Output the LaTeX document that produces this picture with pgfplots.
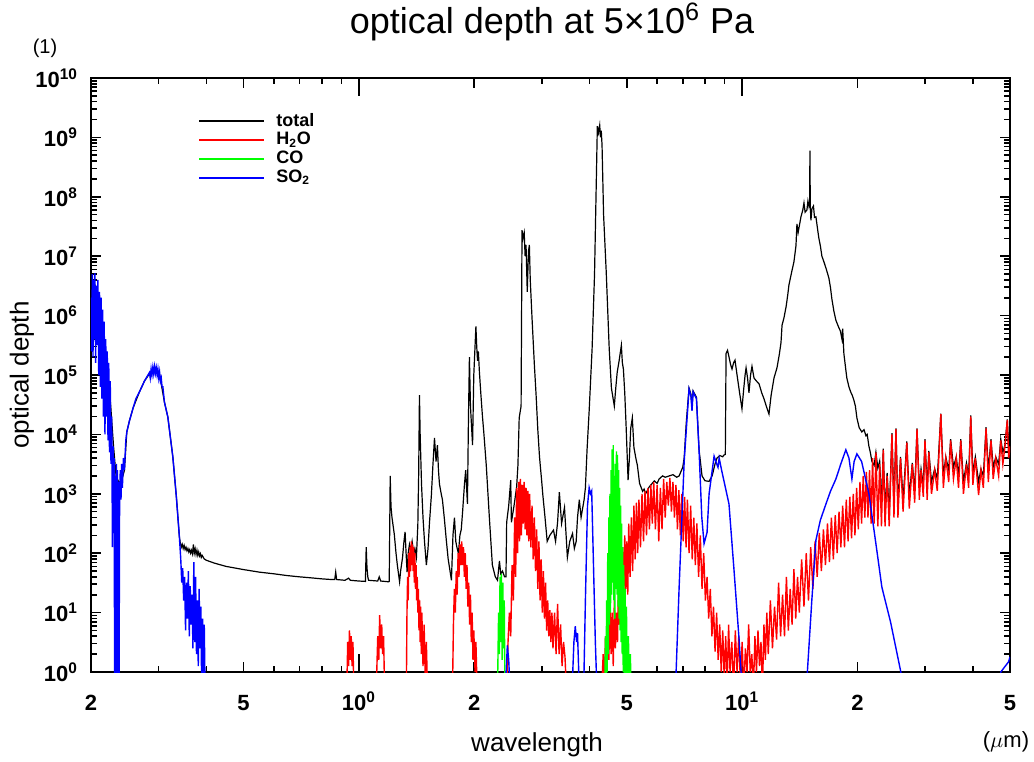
\documentclass[border=0pt]{standalone}
\usepackage{fontspec}
\setmainfont{Liberation Sans}
\usepackage{pgfplots}
\pgfplotsset{compat=1.18}
\definecolor{cogreen}{RGB}{0,255,0}

\begin{document}
\begin{tikzpicture}
\path[use as bounding box] (-45.5pt,-44.5pt) rectangle (471.5pt,336pt);
\begin{axis}[
  at={(0,0)}, anchor=south west,
  scale only axis, width=459.5pt, height=297pt,
  xmode=log, ymode=log,
  xmin=0.2, xmax=50, ymin=1, ymax=1e10,
  axis line style={line width=1.2pt},
  tick style={black, line width=0.8pt},
  major tick length=5pt, minor tick length=3pt,
  tick label style={font=\bfseries\fontsize{11}{12}\selectfont},
  xtick={0.2,0.5,1,2,5,10,20,50},
  xticklabels={2,5,10\textsuperscript{0},2,5,10\textsuperscript{1},2,5},
  minor xtick={0.3,0.4,0.6,0.7,0.8,0.9,3,4,6,7,8,9,30,40},
  extra x ticks={1,10}, extra x tick labels={},
  extra x tick style={major tick length=9pt},
  xticklabel style={anchor=base, yshift=-19pt},
  ytickten={0,...,10},
  yticklabels={10\textsuperscript{0},10\textsuperscript{1},10\textsuperscript{2},10\textsuperscript{3},10\textsuperscript{4},10\textsuperscript{5},10\textsuperscript{6},10\textsuperscript{7},10\textsuperscript{8},10\textsuperscript{9},10\textsuperscript{10}},
  yticklabel style={xshift=-3pt},
  legend style={at={(0.11,0.955)}, anchor=north west, draw=none, fill=none,
    font=\bfseries\fontsize{9}{10}\selectfont, row sep=-2.4pt,
    /tikz/every odd column/.append style={column sep=3.5pt}},
  legend cell align=left,
  legend image code/.code={\draw[#1, line width=0.9pt] (0pt,0pt) -- (32.5pt,0pt);},
]
% total
\addplot[black, line width=0.6pt] coordinates {
(0.200,2.0e6)(0.205,3.2e6)(0.21,2.0e6)(0.215,6.3e5)(0.22,1.6e5)(0.225,3.2e4)(0.229,6.3e3)(0.2325,2.0e3)(0.236,1.6e3)(0.24,1.6e3)(0.2445,2.5e3)(0.248,1.1e4)(0.252,1.7e4)(0.2576,2.8e4)(0.2676,5.2e4)(0.2757,7.9e4)(0.2841,1.05e5)(0.293,1.3e5)(0.3017,1.05e5)(0.3109,3.5e4)(0.3174,1.95e4)(0.327,4.2e3)(0.334,890)(0.3402,186)
(0.342,150)(0.344,126)(0.346,141)(0.348,120)(0.350,135)(0.352,115)(0.354,126)(0.356,110)(0.358,120)(0.360,105)(0.362,115)(0.364,100)(0.366,112)(0.368,98)(0.370,140)(0.372,100)(0.374,118)(0.376,95)(0.378,112)(0.380,92)(0.382,105)(0.384,90)(0.386,98)(0.388,85)(0.390,92)(0.395,80)(0.40,76)(0.42,68)(0.45,60)(0.50,53)(0.55,48)(0.60,45)(0.65,42)(0.70,40)(0.75,38.5)(0.80,37)(0.85,36)(0.865,36)(0.87,48)(0.875,36)(0.92,35)(0.94,38)(0.95,35)(1.00,34)(1.04,33.5)(1.045,126)(1.05,56)(1.055,40)(1.06,35)(1.12,34)(1.13,40)(1.14,34)(1.197,33)(1.20,33.5)
(1.207,2.0e3)(1.213,600)(1.22,400)(1.237,209)(1.25,100)(1.26,63)(1.277,33)(1.285,50)(1.30,85)(1.31,150)(1.32,229)(1.328,100)(1.336,48)(1.345,100)(1.355,140)(1.365,110)(1.377,158)(1.39,100)(1.40,120)(1.413,85)(1.425,300)(1.432,2.0e3)(1.439,4.6e4)(1.445,1.0e4)(1.457,1.45e3)(1.47,400)(1.483,160)(1.50,63)(1.515,120)(1.528,316)(1.546,955)(1.56,3.0e3)(1.575,8.7e3)(1.59,3.5e3)(1.603,6.6e3)(1.613,2.5e3)(1.623,1.45e3)(1.64,1.0e3)(1.652,794)(1.67,400)(1.692,158)(1.71,80)(1.744,35)(1.76,200)(1.776,398)(1.79,158)(1.805,120)(1.819,100)(1.835,200)(1.85,251)(1.865,500)(1.886,1.45e3)(1.90,2.5e3)(1.92,676)(1.932,2.0e4)(1.943,2.0e5)(1.955,3.0e4)(1.98,6.6e3)(1.995,1.0e5)(2.02,6.6e5)(2.03,3.0e5)(2.04,1.74e5)(2.05,2.5e5)(2.063,1.12e5)(2.08,5.0e4)(2.10,2.1e4)(2.12,1.0e4)(2.15,3.0e3)(2.19,400)(2.23,63)(2.27,40)(2.30,35)(2.327,74)(2.345,45)(2.37,50)(2.40,40)(2.42,40)
(2.43,331)(2.46,630)(2.49,1.7e3)(2.50,331)(2.54,630)(2.58,1.3e3)(2.60,3.0e3)(2.62,1.9e4)(2.65,3.0e4)(2.665,2.75e7)(2.68,2.0e7)(2.70,2.5e7)(2.715,1.0e7)(2.73,1.55e7)(2.75,2.5e6)(2.77,1.2e7)(2.785,1.55e7)(2.80,4.0e6)(2.83,9.1e5)(2.87,1.5e5)(2.90,4.6e4)(2.93,1.2e4)(2.96,4.2e3)(3.00,1.6e3)(3.02,955)(3.06,400)(3.10,158)(3.15,200)(3.22,245)(3.26,158)(3.30,331)(3.335,1.07e3)(3.38,316)(3.44,589)(3.50,85)(3.55,158)(3.61,214)(3.65,120)(3.69,158)(3.72,400)(3.76,794)(3.80,400)(3.87,794)(3.90,1.26e3)(3.94,5.6e3)(3.99,2.5e4)(4.06,2.75e5)(4.12,5.0e6)(4.17,3.0e8)(4.19,1.55e9)(4.22,1.2e9)(4.25,1.6e9)(4.27,1.0e9)(4.29,1.3e9)(4.31,7.4e8)(4.35,5.0e7)(4.42,5.4e6)(4.50,2.75e5)(4.56,6.0e4)(4.64,3.0e4)(4.68,6.0e4)(4.72,1.1e5)(4.78,1.8e5)(4.84,3.16e5)(4.87,1.6e5)(4.90,1.26e5)(4.94,5.0e4)(4.98,1.4e4)(5.04,1.7e3)(5.08,4.0e3)(5.12,1.26e4)(5.17,1.9e4)(5.22,6.0e3)(5.28,4.0e3)(5.33,3.0e3)(5.40,1.5e3)(5.50,1.1e3)(5.55,1.2e3)(5.60,1.0e3)(5.72,1.3e3)(5.80,1.45e3)(5.90,1.65e3)(6.0,1.5e3)(6.075,1.78e3)(6.2,2.0e3)(6.3,1.9e3)(6.45,2.0e3)(6.6,2.1e3)(6.75,1.9e3)(6.85,2.0e3)(7.0,2.8e3)(7.06,4.0e3)(7.15,1.6e4)(7.27,6.0e4)(7.35,4.8e4)(7.40,3.0e4)(7.45,5.4e4)(7.6,4.2e4)(7.72,5.6e3)(7.86,2.0e3)(8.0,1.66e3)(8.2,1.62e3)(8.35,2.0e3)(8.5,3.2e3)(8.6,4.0e3)(8.75,4.4e3)(8.90,4.2e3)(8.97,4.5e3)(9.04,4.6e3)
(9.08,2.3e5)(9.16,2.6e5)(9.244,2.0e5)(9.33,1.5e5)(9.41,1.26e5)(9.50,1.6e5)(9.58,1.78e5)(9.70,1.0e5)(9.85,5.0e4)(9.99,2.7e4)(10.1,6.0e4)(10.18,1.0e5)(10.24,1.32e5)(10.33,9.0e4)(10.42,5.0e4)(10.52,1.0e5)(10.61,1.4e5)(10.74,8.9e4)(10.9,7.9e4)(11.07,7.1e4)(11.25,5.0e4)(11.40,4.0e4)(11.6,2.8e4)(11.75,2.2e4)(11.9,4.5e4)(12.11,8.9e4)(12.33,1.32e5)(12.5,2.2e5)(12.63,3.5e5)(12.71,6.9e5)(12.85,9.0e5)(13.02,1.4e6)(13.15,2.2e6)(13.25,3.3e6)(13.49,5.7e6)(13.65,8.0e6)(13.82,1.5e7)(13.90,3.5e7)(14.0,2.5e7)(14.24,4.6e7)(14.4,6.0e7)(14.50,7.9e7)(14.6,5.5e7)(14.76,6.0e7)(14.85,8.5e7)(14.94,6.9e7)(15.00,8.0e7)(15.03,6.0e8)(15.06,7.0e7)(15.12,4.0e7)(15.21,6.3e7)(15.35,7.0e7)(15.45,4.5e7)(15.58,4.6e7)(15.72,3.0e7)(15.86,2.0e7)(16.0,1.5e7)(16.15,1.0e7)(16.35,8.0e6)(16.55,6.3e6)(16.84,4.3e6)(17.0,3.0e6)(17.15,1.9e6)(17.35,1.2e6)(17.57,8.3e5)(17.89,6.2e5)(18.05,5.5e5)(18.22,4.0e5)(18.3,6.0e5)(18.43,2.3e5)(18.6,1.4e5)(18.76,8.9e4)(19.0,6.3e4)(19.22,5.1e4)(19.4,4.5e4)(19.57,3.8e4)(19.75,3.0e4)(19.93,1.9e4)(20.2,1.3e4)(20.53,1.1e4)(20.8,1.2e4)(21.04,9.5e3)(21.2,1.0e4)(21.42,6.3e3)(21.6,5.0e3)(21.81,3.5e3)(22.1,3.0e3)(22.34,5.0e3)(22.6,2.7e3)
(22.85,3.55e3)(23.1,631)(23.35,5.75e3)(23.6,501)(23.9,2.24e3)(24.2,447)(24.6,1.05e4)(24.9,631)(25.2,1.26e4)(25.5,631)(25.9,4.17e3)(26.3,794)(26.9,7.59e3)(27.3,891)(27.8,3.31e3)(28.2,1.12e3)(28.6,1.26e4)(29.0,1.26e3)(29.3,2.63e3)(29.7,1.41e3)(30.0,8.32e3)(30.4,1.26e3)(30.7,5.25e3)(31.2,1.58e3)(31.8,2.63e3)(32.3,1.78e3)(33.0,2.24e4)(33.5,2.0e3)(34.0,4.17e3)(34.6,2.51e3)(35.0,8.32e3)(35.6,2.82e3)(36.2,4.17e3)(36.7,2.0e3)(37.2,8.32e3)(37.8,1.58e3)(38.5,3.31e3)(39.0,2.0e3)(39.5,2.09e4)(40.0,2.24e3)(40.6,4.17e3)(41.4,1.58e3)(42.0,2.63e3)(42.6,2.0e3)(43.3,1.32e4)(43.9,2.51e3)(44.6,8.32e3)(45.2,2.82e3)(45.9,4.17e3)(46.7,3.16e3)(47.3,8.32e3)(47.9,5.0e3)(48.5,6.61e3)(49.2,1.78e4)(49.6,5.62e3)(50,7.08e3)
};
\addlegendentry{total}
% H2O
\addplot[red, line width=0.7pt] coordinates {
(0.930,0.5)(0.935,3.2)(0.94,1.26)(0.945,5)(0.95,1.6)(0.955,4)(0.96,1.26)(0.965,3.2)(0.97,0.5)
(1.11,0.5)(1.12,4)(1.127,1.6)(1.133,9.1)(1.14,2.5)(1.147,6.3)(1.153,2)(1.16,4)(1.167,0.5)
(1.33,0.5)(1.335,10)(1.34,40)(1.345,16)(1.35,100)(1.355,40)(1.36,126)(1.365,50)(1.37,158)(1.375,63)(1.38,141)(1.385,50)(1.39,126)(1.395,32)(1.40,100)(1.405,25)(1.41,63)(1.415,16)(1.42,40)(1.425,10)(1.43,25)(1.435,5)(1.44,16)(1.445,3.2)(1.45,12.6)(1.455,2)(1.46,10)(1.47,1.26)(1.48,6.3)(1.49,0.79)(1.50,3.2)(1.51,0.5)
(1.755,0.5)(1.765,6.3)(1.775,25)(1.785,10)(1.795,50)(1.805,20)(1.815,100)(1.825,40)(1.835,141)(1.845,63)(1.855,158)(1.865,63)(1.875,126)(1.885,40)(1.895,100)(1.905,25)(1.915,63)(1.925,12.6)(1.935,32)(1.945,6.3)(1.955,20)(1.965,3.2)(1.975,10)(1.985,1.6)(1.995,5)(2.01,1)(2.02,3.2)(2.035,0.5)
(2.43,0.5)(2.45,3.2)(2.47,10)(2.49,4)(2.51,63)(2.53,16)(2.55,400)(2.565,40)(2.58,1.26e3)(2.595,100)(2.61,1.58e3)(2.625,158)(2.64,1.78e3)(2.655,200)(2.67,1.41e3)(2.685,316)(2.70,1.58e3)(2.715,251)(2.73,1.26e3)(2.745,200)(2.76,1.12e3)(2.775,158)(2.79,1.0e3)(2.81,126)(2.83,630)(2.85,79)(2.87,400)(2.89,50)(2.91,251)(2.93,25)(2.95,158)(2.97,16)(2.99,79)(3.01,10)(3.03,50)(3.05,7.9)(3.07,32)(3.09,5)(3.11,16)(3.13,4)(3.15,11)(3.17,3.2)(3.19,10)(3.21,2.5)(3.24,10)(3.27,2)(3.30,14)(3.33,2)(3.36,6.3)(3.39,1.26)(3.42,3.2)(3.45,1.8)(3.48,0.5)
(4.30,0.5)(4.34,2)(4.37,0.63)(4.40,4)(4.43,1)(4.46,7.9)(4.49,1.6)(4.52,16)(4.55,2)(4.58,10)(4.61,1.26)(4.64,16)(4.67,2.5)(4.70,10)(4.73,3.2)(4.76,40)(4.79,6.3)(4.82,79)(4.85,7.9)(4.88,126)(4.91,12.6)(4.94,200)(4.97,25)(5.00,158)(5.03,20)(5.06,316)(5.10,40)(5.14,400)(5.18,50)(5.22,630)(5.26,79)(5.30,708)(5.34,100)(5.38,794)(5.43,126)(5.48,1.0e3)(5.53,158)(5.58,1.12e3)(5.63,200)(5.68,1.26e3)(5.73,251)(5.78,1.41e3)(5.83,316)(5.88,1.58e3)(5.94,251)(6.00,1.41e3)(6.06,158)(6.12,1.26e3)(6.18,251)(6.24,1.78e3)(6.30,398)(6.36,1.58e3)(6.42,631)(6.48,1.86e3)(6.54,501)(6.60,1.58e3)(6.66,398)(6.72,1.41e3)(6.78,251)(6.84,1.15e3)(6.90,200)(6.96,1.0e3)(7.02,158)(7.08,891)(7.14,126)(7.20,794)(7.27,100)(7.34,631)(7.41,79)(7.48,398)(7.55,63)(7.62,316)(7.70,40)(7.78,200)(7.86,25)(7.94,100)(8.02,16)(8.10,40)(8.18,7.9)(8.26,25)(8.34,4)(8.42,12.6)(8.50,2.2)(8.58,10)(8.66,1.6)(8.74,6.3)(8.82,1)(8.90,5)(8.98,0.79)(9.06,4)(9.14,0.63)(9.22,6.3)(9.30,1)(9.40,3.2)(9.50,0.5)(9.60,5)(9.70,1)(9.80,4)(9.90,0.63)(10.0,3.2)(10.1,0.5)(10.2,2.5)(10.3,1)(10.4,6.3)(10.5,1)(10.6,2)(10.7,0.5)(10.8,4)(10.9,1)(11.0,5)(11.1,1.26)(11.2,3.2)(11.3,0.5)(11.4,6.3)(11.5,1.6)(11.6,10)(11.7,2)(11.85,16)(12.0,2.5)(12.15,12.6)(12.3,3.5)(12.45,32)(12.6,4)(12.75,20)(12.9,4)(13.05,40)(13.2,5)(13.35,25)(13.5,6.3)(13.65,54)(13.8,7.9)(13.95,40)(14.1,10)(14.3,79)(14.5,12.6)(14.7,100)(14.9,16)(15.1,126)(15.3,25)(15.5,158)(15.7,40)(15.9,219)(16.1,50)(16.3,251)(16.5,63)(16.7,316)(16.9,71)(17.1,398)(17.3,79)(17.5,437)(17.7,100)(17.9,501)(18.1,126)(18.3,631)(18.5,126)(18.7,794)(18.9,158)(19.1,891)(19.3,178)(19.5,1.0e3)(19.7,200)(19.9,1.26e3)(20.1,251)(20.3,1.58e3)(20.5,316)(20.7,2.0e3)(20.9,398)(21.1,2.34e3)(21.3,398)(21.5,2.51e3)(21.7,316)(21.9,3.98e3)(22.1,316)(22.35,5.0e3)(22.6,282)(22.85,3.16e3)(23.1,282)(23.35,5.5e3)(23.6,282)(23.9,2.0e3)(24.2,282)(24.6,1.0e4)(24.9,398)(25.2,1.23e4)(25.5,398)(25.9,3.98e3)(26.3,501)(26.9,7.24e3)(27.3,562)(27.8,3.16e3)(28.2,708)(28.6,1.23e4)(29.0,794)(29.3,2.51e3)(29.7,891)(30.0,7.94e3)(30.4,794)(30.7,5.0e3)(31.2,1.0e3)(31.8,2.51e3)(32.3,1.12e3)(33.0,2.19e4)(33.5,1.26e3)(34.0,3.98e3)(34.6,1.58e3)(35.0,7.94e3)(35.6,1.78e3)(36.2,3.98e3)(36.7,1.26e3)(37.2,7.94e3)(37.8,1.0e3)(38.5,3.16e3)(39.0,1.26e3)(39.5,2.0e4)(40.0,1.41e3)(40.6,3.98e3)(41.4,955)(42.0,2.51e3)(42.6,1.26e3)(43.3,1.26e4)(43.9,1.58e3)(44.6,7.94e3)(45.2,1.78e3)(45.9,3.98e3)(46.7,2.0e3)(47.3,7.94e3)(47.9,3.16e3)(48.5,6.31e3)(49.2,1.74e4)(49.6,3.98e3)(50,6.31e3)
};
\addlegendentry{H\textsubscript{2}O}
% CO
\addplot[cogreen, line width=0.7pt] coordinates {
(2.30,0.5)(2.315,10)(2.325,2)(2.335,40)(2.345,3.2)(2.355,45)(2.365,1.6)(2.375,32)(2.385,2.5)(2.395,16)(2.405,0.5)
(4.38,0.5)(4.40,4)(4.415,0.5)(4.43,16)(4.445,1)(4.46,100)(4.475,2)(4.49,400)(4.505,6.3)(4.52,1.0e3)(4.535,10)(4.55,2.5e3)(4.565,20)(4.58,5.6e3)(4.595,32)(4.61,6.6e3)(4.625,16)(4.64,2.0e3)(4.655,7.9)(4.67,3.2e3)(4.685,25)(4.70,5.2e3)(4.715,20)(4.73,4.5e3)(4.745,12.6)(4.76,2.5e3)(4.775,7.9)(4.79,1.26e3)(4.805,5)(4.82,630)(4.835,3.2)(4.85,316)(4.865,2)(4.88,126)(4.895,1)(4.91,63)(4.93,0.63)(4.95,25)(4.97,0.5)(4.99,12.6)(5.02,0.5)(5.05,4)(5.08,0.5)(5.11,2)(5.13,0.5)
};
\addlegendentry{CO}
% SO2
\addplot[blue, line width=0.7pt] coordinates {
(0.200,2.0e6)(0.2008,2.5e5)(0.2016,5.0e6)(0.2024,2.0e5)(0.2032,4.0e6)(0.204,4.0e5)(0.2048,5.2e6)(0.2056,1.6e5)(0.2065,3.2e6)(0.2075,3.2e5)(0.2085,4.0e6)(0.2095,1.0e5)(0.2105,2.5e6)(0.2115,6.3e4)(0.2125,2.0e6)(0.2135,4.0e4)(0.2145,1.26e6)(0.2155,2.0e4)(0.2165,7.9e5)(0.2175,1.0e4)(0.2185,4.0e5)(0.2195,2.0e4)(0.2205,2.5e5)(0.2215,7.9e3)(0.2225,1.6e5)(0.2235,5.0e3)(0.2245,7.9e4)(0.2255,3.2e3)(0.2265,2.0e4)(0.2275,126)(0.2285,6.3e3)(0.229,316)(0.2298,4.0e3)(0.2305,0.5)(0.2315,2.0e3)(0.2322,0.5)(0.233,3.2e3)(0.2338,0.5)(0.2345,2.5e3)(0.2352,0.5)(0.236,1.6e3)(0.2367,0.5)(0.2375,1.0e3)(0.2385,2.5e3)(0.2395,800)(0.2405,3.2e3)(0.2415,1.26e3)(0.243,4.0e3)(0.2445,2.5e3)(0.2465,7.9e3)(0.248,1.1e4)(0.252,1.7e4)(0.2576,2.8e4)(0.262,4.0e4)(0.2676,5.2e4)(0.2757,7.9e4)(0.2841,1.1e5)(0.2855,8.9e4)(0.287,1.26e5)(0.2885,1.0e5)(0.29,1.35e5)(0.2915,1.05e5)(0.293,1.38e5)(0.2945,1.07e5)(0.296,1.32e5)(0.2975,1.0e5)(0.299,1.26e5)(0.3005,8.9e4)(0.302,1.12e5)(0.3035,7.9e4)(0.305,8.9e4)(0.3065,6.3e4)(0.308,6.3e4)(0.3109,3.5e4)(0.3174,1.95e4)(0.327,4.2e3)(0.334,890)(0.3402,186)(0.343,79)(0.345,32)(0.347,56)(0.349,16)(0.351,40)(0.353,5)(0.355,32)(0.357,7.9)(0.359,50)(0.361,4)(0.363,28)(0.365,6.3)(0.367,20)(0.369,2.5)(0.371,71)(0.373,3.2)(0.375,40)(0.377,2)(0.379,16)(0.381,1.26)(0.383,25)(0.385,2.5)(0.387,12.6)(0.389,0.5)(0.391,7.9)(0.393,0.5)(0.395,6.3)(0.397,0.5)
(2.41,0.5)(2.44,2.8)(2.46,1.6)(2.48,0.5)
(3.60,0.5)(3.64,3.2)(3.67,5.9)(3.70,3.2)(3.72,4.5)(3.76,0.5)
(3.86,0.5)(3.90,16)(3.95,630)(3.99,1260)(4.02,1000)(4.05,1120)(4.08,160)(4.14,3.2)(4.18,0.5)
(6.70,0.5)(6.85,27)(7.06,3.5e3)(7.27,5.8e4)(7.35,4.5e4)(7.40,2.5e4)(7.45,5.2e4)(7.6,4.0e4)(7.72,5.5e3)(7.85,400)(7.957,145)(8.1,224)(8.2,1.0e3)(8.45,4.3e3)(8.58,3.2e3)(8.65,2.8e3)(8.71,4.0e3)(8.84,2.5e3)(9.24,676)(9.52,54)(9.82,3.5)(10.0,0.5)
(14.6,0.5)(14.8,1.0)(15.2,16)(15.58,166)(16.0,360)(16.55,676)(17.0,1.1e3)(17.57,1.78e3)(18.1,3.2e3)(18.65,5.5e3)(19.0,4.0e3)(19.34,1.78e3)(19.6,3.5e3)(19.93,4.7e3)(20.5,3.5e3)(21.42,1.0e3)(22.47,110)(23.15,27)(24.4,6.9)(25.95,1.0)(26.3,0.5)
(47.0,0.5)(47.3,1.0)(49.56,1.48)(50,1.8)
};
\addlegendentry{SO\textsubscript{2}}
\end{axis}
\node[font=\fontsize{18}{20}\selectfont] at (230.5pt,325pt) {optical depth at 5×10\textsuperscript{6} Pa};
\node[font=\fontsize{10}{12}\selectfont] at (-23pt,312pt) {(1)};
\node[font=\fontsize{13}{15}\selectfont, rotate=90] at (-34.5pt,148.5pt) {optical depth};
\node[font=\fontsize{13}{15}\selectfont] at (223pt,-36.5pt) {wavelength};
\node[font=\fontsize{11}{13}\selectfont] at (457.5pt,-35pt) {($\mu$m)};
\end{tikzpicture}
\end{document}
